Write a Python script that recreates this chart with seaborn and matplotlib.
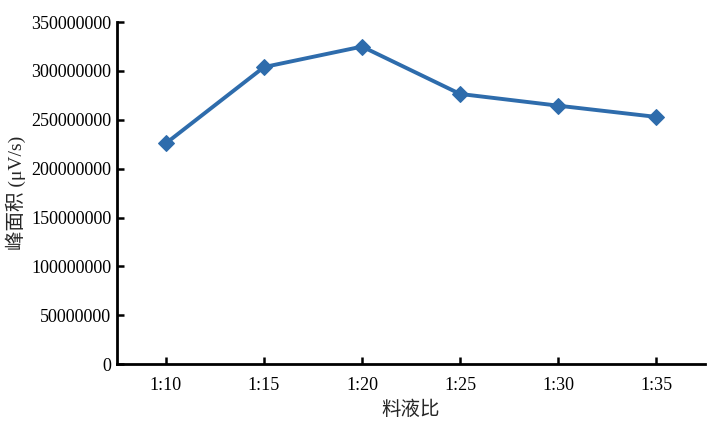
import matplotlib
matplotlib.use("Agg")
import matplotlib.pyplot as plt
import seaborn as sns
import pandas as pd

ratios = ['1:10', '1:15', '1:20', '1:25', '1:30', '1:35']
peak_area = [226000000, 304000000, 325000000, 276500000, 264500000, 253000000]

sns.set_style("ticks")
plt.rcParams['font.family'] = ['Liberation Serif', 'Noto Sans CJK SC']
plt.rcParams['font.size'] = 13
plt.rcParams['axes.unicode_minus'] = False

df = pd.DataFrame({'ratio': ratios, 'area': peak_area})

fig = plt.figure(figsize=(7.13, 4.26), dpi=100)
ax = fig.add_axes([0.164, 0.1455, 0.825, 0.8025])
sns.lineplot(data=df, x='ratio', y='area', ax=ax, color='#2E6CAC',
             linewidth=2.8, marker='D', markersize=8, markeredgecolor='#2E6CAC')

ax.set_xlim(-0.5, 5.5)
ax.set_ylim(0, 350000000)
ax.set_yticks(range(0, 350000001, 50000000))
ax.ticklabel_format(axis='y', style='plain')
ax.tick_params(direction='in', length=5, width=1.8, labelsize=13, colors='black')
ax.tick_params(axis='x', pad=9)
ax.tick_params(axis='y', pad=4)
sns.despine(ax=ax)
for s in ['left', 'bottom']:
    ax.spines[s].set_linewidth(2)
    ax.spines[s].set_color('black')

ax.set_xlabel('料液比', fontsize=14, family=['Noto Sans CJK SC', 'Liberation Serif'], labelpad=4)
ax.set_ylabel('峰面积 (μV/s)', fontsize=14, family=['Liberation Serif', 'Noto Sans CJK SC'], labelpad=4)

fig.savefig('out.png', dpi=100)
